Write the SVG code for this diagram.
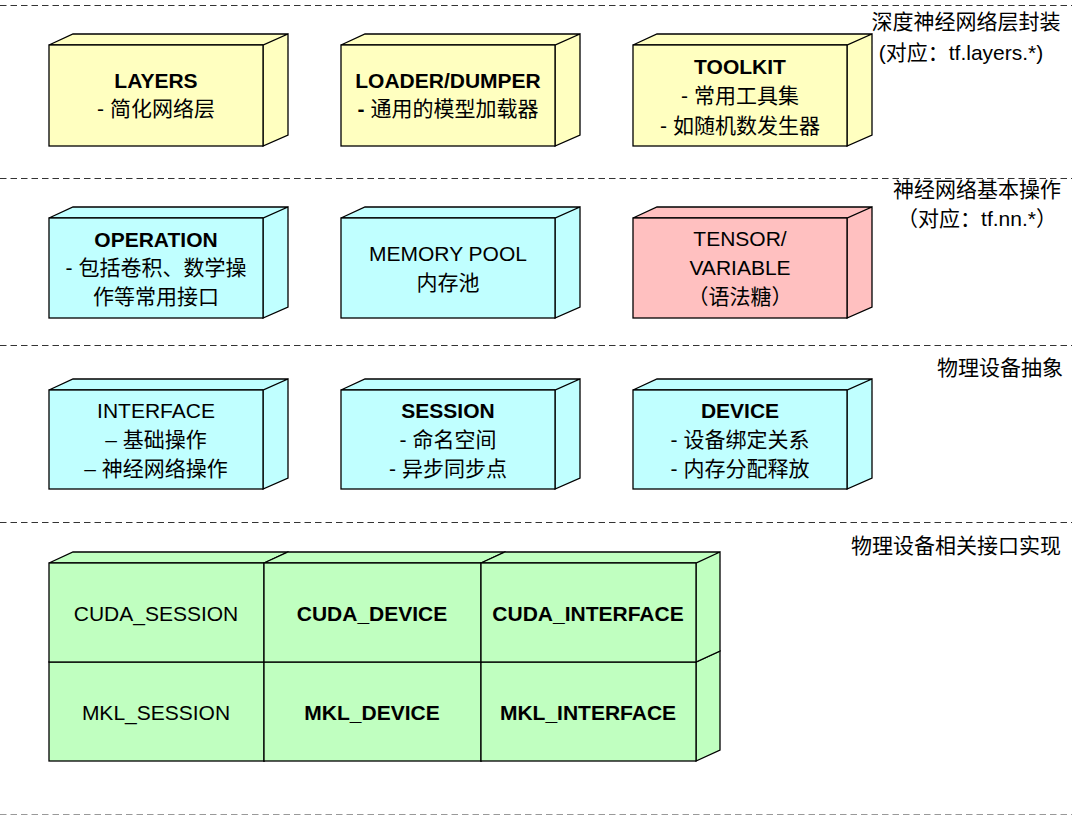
<svg xmlns="http://www.w3.org/2000/svg" width="1072" height="816" viewBox="0 0 1072 816">
<style>
.f{stroke:#000;stroke-width:1.3;stroke-linejoin:miter}
.y{fill:#ffffc0}.c{fill:#c0ffff}.r{fill:#ffc0c0}.g{fill:#c0ffc0}
text{font-family:"Liberation Sans","Noto Sans CJK SC",sans-serif;font-size:21px;fill:#000;text-anchor:middle}
.b{font-weight:bold}
.sep{stroke:#333;stroke-width:1;stroke-dasharray:6.5 4;fill:none}
</style>
<defs>
<g id="boxshape">
<path d="M0,0 L24,-11 L238,-11 L214,0 Z"/>
<path d="M214,0 L238,-11 L238,89 L214,100 Z"/>
<rect x="0" y="0" width="214" height="100"/>
</g>
</defs>
<g id="separators">
<line class="sep" x1="0" y1="5.5" x2="1072" y2="5.5"/>
<line class="sep" x1="0" y1="178.5" x2="1072" y2="178.5"/>
<line class="sep" x1="0" y1="345.5" x2="1072" y2="345.5"/>
<line class="sep" x1="0" y1="522.5" x2="1072" y2="522.5"/>
<line class="sep" x1="0" y1="814.5" x2="1072" y2="814.5" style="stroke:#999"/>
</g>
<g id="layer-labels">
<text x="966" y="29">深度神经网络层封装</text>
<text x="961" y="60">(对应：tf.layers.*)</text>
<text x="977" y="197">神经网络基本操作</text>
<text x="977" y="226">（对应：tf.nn.*）</text>
<text x="1000" y="375">物理设备抽象</text>
<text x="956" y="553">物理设备相关接口实现</text>
</g>
<g id="layers">
<path class="f y" d="M49,45 L73,34 L288,34 L263,45 Z M263,45 L288,34 L288,135 L263,146 Z"/>
<rect class="f y" x="49" y="45" width="214" height="101"/>
<text class="b" x="156" y="88">LAYERS</text>
<text x="156" y="116">- 简化网络层</text>
</g>
<g id="loader-dumper">
<path class="f y" d="M341,45 L365,34 L580,34 L555,45 Z M555,45 L580,34 L580,135 L555,146 Z"/>
<rect class="f y" x="341" y="45" width="214" height="101"/>
<text class="b" x="448" y="88">LOADER/DUMPER</text>
<text x="448" y="116"><tspan class="b">-</tspan> 通用的模型加载器</text>
</g>
<g id="toolkit">
<path class="f y" d="M633,45 L657,34 L872,34 L847,45 Z M847,45 L872,34 L872,135 L847,146 Z"/>
<rect class="f y" x="633" y="45" width="214" height="101"/>
<text class="b" x="740" y="74">TOOLKIT</text>
<text x="740" y="103">- 常用工具集</text>
<text x="740" y="133">- 如随机数发生器</text>
</g>
<g id="operation">
<path class="f c" d="M49,218 L73,207 L288,207 L263,218 Z M263,218 L288,207 L288,307 L263,318 Z"/>
<rect class="f c" x="49" y="218" width="214" height="100"/>
<text class="b" x="156" y="247">OPERATION</text>
<text x="156" y="275">- 包括卷积、数学操</text>
<text x="156" y="304">作等常用接口</text>
</g>
<g id="memory-pool">
<path class="f c" d="M341,218 L365,207 L580,207 L555,218 Z M555,218 L580,207 L580,307 L555,318 Z"/>
<rect class="f c" x="341" y="218" width="214" height="100"/>
<text x="448" y="261">MEMORY POOL</text>
<text x="448" y="290">内存池</text>
</g>
<g id="tensor-variable">
<path class="f r" d="M633,218 L657,207 L872,207 L847,218 Z M847,218 L872,207 L872,307 L847,318 Z"/>
<rect class="f r" x="633" y="218" width="214" height="100"/>
<text x="740" y="246">TENSOR/</text>
<text x="740" y="275">VARIABLE</text>
<text x="740" y="304">（语法糖）</text>
</g>
<g id="interface">
<path class="f c" d="M49,390 L73,379 L288,379 L263,390 Z M263,390 L288,379 L288,478 L263,489 Z"/>
<rect class="f c" x="49" y="390" width="214" height="99"/>
<text x="156" y="418">INTERFACE</text>
<text x="156" y="447">– 基础操作</text>
<text x="156" y="476">– 神经网络操作</text>
</g>
<g id="session">
<path class="f c" d="M341,390 L365,379 L580,379 L555,390 Z M555,390 L580,379 L580,478 L555,489 Z"/>
<rect class="f c" x="341" y="390" width="214" height="99"/>
<text class="b" x="448" y="418">SESSION</text>
<text x="448" y="447">- 命名空间</text>
<text x="448" y="476">- 异步同步点</text>
</g>
<g id="device">
<path class="f c" d="M633,390 L657,379 L872,379 L847,390 Z M847,390 L872,379 L872,478 L847,489 Z"/>
<rect class="f c" x="633" y="390" width="214" height="99"/>
<text class="b" x="740" y="418">DEVICE</text>
<text x="740" y="447">- 设备绑定关系</text>
<text x="740" y="476">- 内存分配释放</text>
</g>
<g id="mkl-session">
<path class="f g" d="M49,662 L73,651 L288,651 L264,662 Z M264,662 L288,651 L288,750 L264,761 Z"/>
<rect class="f g" x="49" y="662" width="215" height="99"/>
<text x="156" y="720">MKL_SESSION</text>
</g>
<g id="mkl-device">
<path class="f g" d="M264,662 L288,651 L505,651 L481,662 Z M481,662 L505,651 L505,750 L481,761 Z"/>
<rect class="f g" x="264" y="662" width="217" height="99"/>
<text class="b" x="372" y="720">MKL_DEVICE</text>
</g>
<g id="mkl-interface">
<path class="f g" d="M481,662 L505,651 L720,651 L696,662 Z M696,662 L720,651 L720,750 L696,761 Z"/>
<rect class="f g" x="481" y="662" width="215" height="99"/>
<text class="b" x="588" y="720">MKL_INTERFACE</text>
</g>
<g id="cuda-session">
<path class="f g" d="M49,563 L73,552 L288,552 L264,563 Z M264,563 L288,552 L288,651 L264,662 Z"/>
<rect class="f g" x="49" y="563" width="215" height="99"/>
<text x="156" y="621">CUDA_SESSION</text>
</g>
<g id="cuda-device">
<path class="f g" d="M264,563 L288,552 L505,552 L481,563 Z M481,563 L505,552 L505,651 L481,662 Z"/>
<rect class="f g" x="264" y="563" width="217" height="99"/>
<text class="b" x="372" y="621">CUDA_DEVICE</text>
</g>
<g id="cuda-interface">
<path class="f g" d="M481,563 L505,552 L720,552 L696,563 Z M696,563 L720,552 L720,651 L696,662 Z"/>
<rect class="f g" x="481" y="563" width="215" height="99"/>
<text class="b" x="588" y="621">CUDA_INTERFACE</text>
</g>
<g id="connectors"></g>
</svg>
